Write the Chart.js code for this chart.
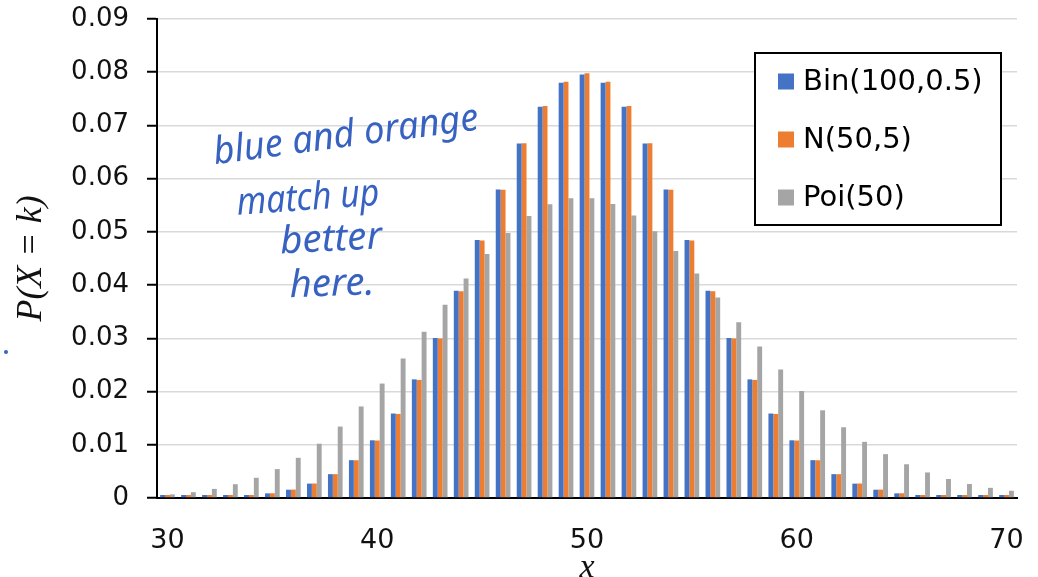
<!DOCTYPE html>
<html>
<head>
<meta charset="utf-8">
<script src="https://cdn.jsdelivr.net/npm/chart.js@4"></script>
<style>
  html, body { margin: 0; padding: 0; background: #fff; }
</style>
</head>
<body>
<canvas id="dist" width="1038" height="577"></canvas>
<script>
const categories = [30, 31, 32, 33, 34, 35, 36, 37, 38, 39,
                    40, 41, 42, 43, 44, 45, 46, 47, 48, 49,
                    50, 51, 52, 53, 54, 55, 56, 57, 58, 59,
                    60, 61, 62, 63, 64, 65, 66, 67, 68, 69, 70];

const seriesNames = ["Bin(100,0.5)", "N(50,5)", "Poi(50)"];

const binom = [0.00002, 0.00005, 0.00012, 0.00024, 0.00046, 0.00087, 0.00156, 0.0027, 0.00448, 0.00711,
               0.01084, 0.01587, 0.02229, 0.03007, 0.03895, 0.04847, 0.05796, 0.06659, 0.07353, 0.07803,
               0.07959, 0.07803, 0.07353, 0.06659, 0.05796, 0.04847, 0.03895, 0.03007, 0.02229, 0.01587,
               0.01084, 0.00711, 0.00448, 0.0027, 0.00156, 0.00087, 0.00046, 0.00024, 0.00012, 0.00005, 0.00002];

const normal = [0.00003, 0.00006, 0.00012, 0.00025, 0.00048, 0.00089, 0.00158, 0.00272, 0.00448, 0.00709,
                0.0108, 0.01579, 0.02218, 0.02995, 0.03884, 0.04839, 0.05794, 0.06664, 0.07365, 0.07821,
                0.07979, 0.07821, 0.07365, 0.06664, 0.05794, 0.04839, 0.03884, 0.02995, 0.02218, 0.01579,
                0.0108, 0.00709, 0.00448, 0.00272, 0.00158, 0.00089, 0.00048, 0.00025, 0.00012, 0.00006, 0.00003];

const poisson = [0.00068, 0.00109, 0.00171, 0.00259, 0.0038, 0.00543, 0.00755, 0.0102, 0.01342, 0.0172,
                 0.0215, 0.02622, 0.03122, 0.0363, 0.04125, 0.04583, 0.04981, 0.05299, 0.0552, 0.05633,
                 0.05633, 0.05523, 0.0531, 0.0501, 0.04639, 0.04217, 0.03765, 0.03303, 0.02848, 0.02413,
                 0.02011, 0.01648, 0.01329, 0.01055, 0.00824, 0.00634, 0.0048, 0.00358, 0.00263, 0.00191, 0.00136];

const yTicks = [0, 0.01, 0.02, 0.03, 0.04, 0.05, 0.06, 0.07, 0.08, 0.09];

// legend drawn inside the plot with a black frame
var boxLegend = {
  id: 'boxLegend',
  afterDraw: function(chart) {
    var c = chart.ctx, a = chart.chartArea;
    var x = a.right - 262, y = a.top + 34, w = 246, h = 172;
    c.save();
    c.fillStyle = '#fff';
    c.fillRect(x, y, w, h);
    c.strokeStyle = '#000';
    c.lineWidth = 2;
    c.strokeRect(x, y, w, h);
    c.font = '29px "DejaVu Sans"';
    c.textBaseline = 'middle';
    chart.data.datasets.forEach(function(ds, i) {
      var cy = y + 28.5 + i * 58;
      c.fillStyle = ds.backgroundColor;
      c.fillRect(x + 23, cy - 8, 16, 16);
      c.fillStyle = '#000';
      c.fillText(ds.label, x + 48, cy + 1);
    });
    c.restore();
  }
};

// the handwritten note
var handNote = {
  id: 'handNote',
  afterDraw: function(chart) {
    var c = chart.ctx;
    var lines = [
      {t: 'blue and orange', x: 346, y: 136, w: 267, rot: -7.5},
      {t: 'match up', x: 308, y: 199, w: 143, rot: -4},
      {t: 'better', x: 331, y: 240, w: 102, rot: -3},
      {t: 'here.', x: 332, y: 285, w: 85, rot: -2}
    ];
    c.save();
    c.fillStyle = '#3762c2';
    c.font = 'italic 38px "Noto Sans"';
    c.textAlign = 'center';
    c.textBaseline = 'middle';
    lines.forEach(function(l) {
      var m = c.measureText(l.t).width;
      c.save();
      c.translate(l.x, l.y);
      c.rotate(l.rot * Math.PI / 180);
      c.scale(l.w / m, 1);
      c.fillText(l.t, 0, 0);
      c.restore();
    });
    // stray pen dot at the far left
    c.beginPath();
    c.arc(6, 352, 2, 0, 2 * Math.PI);
    c.fill();
    c.restore();
  }
};

var ctx = document.getElementById('dist');

var chart = new Chart(ctx, {
  type: 'bar',
  data: {
    labels: categories,
    datasets: [
      {label: seriesNames[0], data: binom, backgroundColor: '#4472C4'},
      {label: seriesNames[1], data: normal, backgroundColor: '#ED7D31'},
      {label: seriesNames[2], data: poisson, backgroundColor: '#A5A5A5'}
    ]
  },
  options: {
    responsive: false,
    animation: false,
    layout: {padding: {top: 19, right: 21, left: 0, bottom: 0}},
    datasets: {bar: {categoryPercentage: 0.7, barPercentage: 1, minBarLength: 3}},
    plugins: {
      legend: {display: false},
      tooltip: {enabled: false}
    },
    scales: {
      x: {
        offset: true,
        grid: {
          offset: true,
          drawOnChartArea: false,
          tickLength: 10,
          tickWidth: 2,
          tickColor: function(c) {
            return (c.tick && c.index % 10 === 0) ? '#000' : 'rgba(0,0,0,0)';
          }
        },
        border: {color: '#000', width: 2},
        ticks: {
          autoSkip: false,
          maxRotation: 0,
          padding: 17,
          color: '#111',
          font: {family: 'DejaVu Sans', size: 27},
          callback: function(v) {
            var lab = this.getLabelForValue(v);
            return lab % 10 === 0 ? String(lab) : null;
          }
        },
        title: {
          display: true,
          text: 'x',
          color: '#111',
          font: {family: 'Liberation Serif', size: 34, style: 'italic', lineHeight: 0.55},
          padding: {top: 0, bottom: 0}
        },
        afterFit: function(s) {
          s.height = 79;
          s.paddingLeft = 0;
          s.paddingRight = 0;
        }
      },
      y: {
        min: yTicks[0],
        max: yTicks[yTicks.length - 1],
        afterBuildTicks: function(s) {
          s.ticks = yTicks.map(function(v) { return {value: v}; });
        },
        grid: {color: '#d9d9d9', lineWidth: 1.5, tickColor: '#000', tickLength: 10, tickWidth: 2},
        border: {color: '#000', width: 2},
        ticks: {
          padding: 18,
          color: '#111',
          font: {family: 'DejaVu Sans', size: 26},
          callback: function(v) { return v === 0 ? '0' : v.toFixed(2); }
        },
        title: {
          display: true,
          text: 'P(X = k)',
          color: '#111',
          font: {family: 'Liberation Serif', size: 36, style: 'italic', lineHeight: 1.2},
          padding: {top: 10, bottom: 0}
        },
        afterFit: function(s) {
          s.width = 157;
          s.paddingTop = 0;
          s.paddingBottom = 0;
        }
      }
    }
  },
  plugins: [boxLegend, handNote]
});
</script>
</body>
</html>
